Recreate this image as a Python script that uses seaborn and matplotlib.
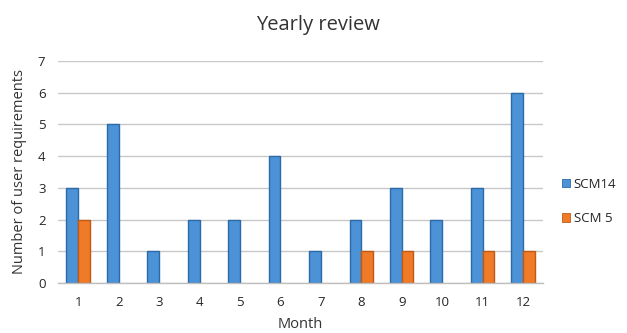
import matplotlib
matplotlib.use("Agg")
import matplotlib.pyplot as plt
import seaborn as sns
import pandas as pd
import numpy as np
from matplotlib.patches import Patch

months = ["1", "2", "3", "4", "5", "6", "7", "8", "9", "10", "11", "12"]
scm14 = [3, 5, 1, 2, 2, 4, 1, 2, 3, 2, 3, 6]
scm5 = [2, 0, 0, 0, 0, 0, 0, 1, 1, 0, 1, 1]
series_names = ["SCM14", "SCM 5"]

df = pd.DataFrame({
    "Month": months * 2,
    "Value": scm14 + scm5,
    "Series": [series_names[0]] * len(months) + [series_names[1]] * len(months),
})

sns.set_style("white")
plt.rcParams["font.family"] = ["Open Sans", "DejaVu Sans"]

fig = plt.figure(figsize=(6.27, 3.33), dpi=100)
ax = fig.add_axes([0.0925, 0.150, 0.774, 0.667])

palette = {"SCM14": "#4b93d6", "SCM 5": "#ef7a28"}
edges = {"SCM14": "#2a6aa8", "SCM 5": "#c05a15"}

sns.barplot(data=df, x="Month", y="Value", hue="Series", order=months,
            hue_order=series_names, palette=palette, width=0.58,
            linewidth=1.0, saturation=1, ax=ax, legend=False)

# outline each series in a darker shade; hide empty bars
for container, name in zip(ax.containers, series_names):
    for patch in container.patches:
        patch.set_edgecolor(edges[name])
        if patch.get_height() == 0:
            patch.set_visible(False)

ax.set_ylim(0, 7)
ax.set_xlim(-0.5, 11.5)
ax.set_yticks(range(0, 8))
ax.yaxis.grid(True, color="#c8c8c8", linewidth=1.0)
ax.set_axisbelow(True)

for side in ["left", "right", "top"]:
    ax.spines[side].set_visible(False)
ax.spines["bottom"].set_color("#bfbfbf")
ax.spines["bottom"].set_linewidth(1.0)

ax.set_xticks(np.arange(-0.5, 12, 1.0), minor=True)
ax.tick_params(axis="x", which="minor", length=5, color="#bfbfbf", width=1.0)
ax.tick_params(axis="x", which="major", length=0, pad=9, labelsize=9.5, labelcolor="#262626")
ax.tick_params(axis="y", length=0, pad=9, labelsize=9.5, labelcolor="#262626")

ax.set_title("Yearly review", fontsize=14.5, color="#333333", pad=22, x=0.535)
ax.set_ylabel("Number of user requirements", fontsize=10.5, color="#333333", labelpad=8)
ax.set_xlabel("Month", fontsize=10.5, color="#333333", labelpad=6)

handles = [Patch(facecolor=palette[n], edgecolor=edges[n], linewidth=0.6) for n in series_names]
fig.legend(handles, series_names, loc="center left", bbox_to_anchor=(0.897, 0.395),
           frameon=False, fontsize=9.5, handlelength=0.6, handleheight=0.6,
           handletextpad=0.25, labelspacing=1.6, labelcolor="#262626",
           borderaxespad=0, borderpad=0)

fig.savefig("out.png", dpi=100)
